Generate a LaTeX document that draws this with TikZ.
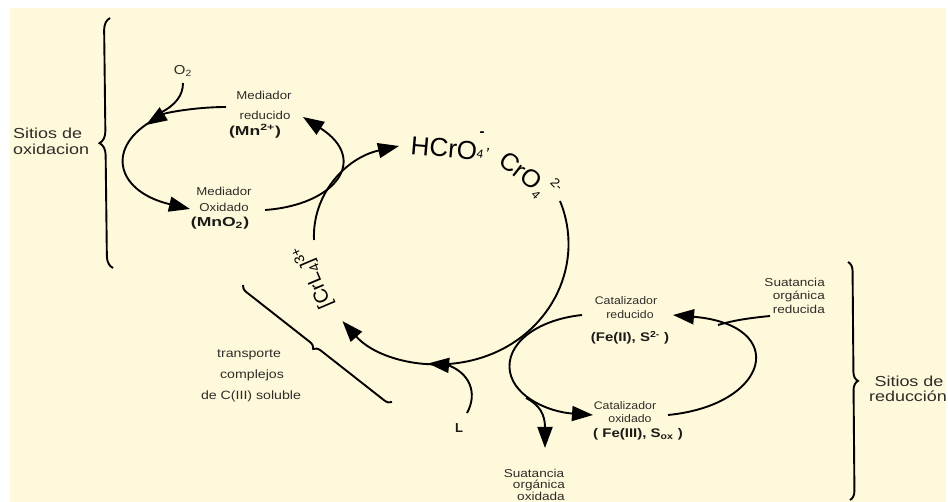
\documentclass[tikz,border=0pt]{standalone}
\usepackage{fontspec}
\usepackage{graphicx}
\setmainfont{Liberation Sans}
\usetikzlibrary{arrows.meta,decorations.pathreplacing,decorations.markings}
\definecolor{bgcream}{HTML}{FFF9DC}
\definecolor{txtgray}{HTML}{2E2C28}
\definecolor{txtdark}{HTML}{1A1A16}
\newcommand{\sx}[2][1.28]{\scalebox{#1}[1]{#2}}
\begin{document}
\begin{tikzpicture}[x=1pt,y=-1pt,
  curve/.style={line width=1.9pt, draw=black},
  tipend/.style={-{Triangle[length=21pt,width=15pt]}},
  midtip/.style={postaction={decorate,decoration={markings,
      mark=at position #1 with {\arrow{Triangle[length=21pt,width=15pt]}}}}},
  lbl/.style={inner sep=0pt, text=txtgray, font=\fontsize{#1}{#1}\selectfont},
  blbl/.style={inner sep=0pt, text=txtdark, font=\fontsize{#1}{#1}\selectfont\bfseries},
  big/.style={inner sep=0pt, text=black, font=\fontsize{#1}{#1}\selectfont},
  bracestyle/.style={line width=1.9pt, decorate, decoration={brace, amplitude=#1}}
]
\fill[white] (0,0) rectangle (948,502);
\fill[bgcream] (10,8) rectangle (946,502);
\useasboundingbox (0,0) rectangle (948,502);

% ---------- text nodes ----------
\node[lbl=14.5, anchor=west] (sox1) at (13,133) {\sx[1.24]{Sitios de}};
\node[lbl=14.5, anchor=west] (sox2) at (13,149) {\sx[1.24]{oxidacion}};
\node[lbl=14.5] (sred1) at (909,381) {\sx[1.24]{Sitios de}};
\node[lbl=14.5] (sred2) at (908,396) {\sx[1.24]{reducción}};

\node[lbl=13] (o2) at (183,71) {\sx[1.15]{O\textsubscript{2}}};

\node[lbl=11.5] (mr1) at (264,95) {\sx[1.15]{Mediador}};
\node[lbl=11.5] (mr2) at (265,115) {\sx[1.15]{reducido}};
\node[blbl=13] (mr3) at (255,131) {\sx[1.35]{(Mn\textsuperscript{2+})}};

\node[lbl=11.5] (mo1) at (224,191) {\sx[1.15]{Mediador}};
\node[lbl=11.5] (mo2) at (224,207) {\sx[1.15]{Oxidado}};
\node[blbl=13] (mo3) at (220,223) {\sx[1.35]{(MnO\textsubscript{2})}};

% chromate species, set piece by piece along the arc
\node[big=26, rotate=-5] (hcro) at (444,148) {HCrO};
\node[big=15, font=\fontsize{15}{15}\selectfont\bfseries] (hsup) at (482,134) {-};
\node[big=12, rotate=-10] (hsub) at (480,154) {4};
\node[big=16, rotate=-15] (hcom) at (488,150) {,};
\node[big=25, rotate=-38] (cro) at (521,171) {CrO};
\node[big=12, rotate=-45] (csub) at (536,195) {4};
\node[big=13, rotate=-45] (csup) at (557,184) {2-};
\node[big=20, rotate=113] (crl) at (313,277) {[CrL\textsubscript{4}]\textsuperscript{3+}};

\node[lbl=11] (cr1) at (626,301) {\sx[1.12]{Catalizador}};
\node[lbl=11] (cr2) at (630,315) {\sx[1.12]{reducido}};
\node[blbl=12.5] (cr3) at (630,338) {\sx[1.2]{(Fe(II), S\textsuperscript{2-} )}};

\node[lbl=11] (co1) at (625,406) {\sx[1.12]{Catalizador}};
\node[lbl=11] (co2) at (630,419) {\sx[1.12]{oxidado}};
\node[blbl=12.5] (co3) at (638,434) {\sx[1.2]{( Fe(III), S\textsubscript{ox} )}};

\node[lbl=11.5, anchor=east] (sr1) at (825,282) {\sx[1.18]{Suatancia}};
\node[lbl=11.5, anchor=east] (sr2) at (825,296) {\sx[1.18]{orgánica}};
\node[lbl=11.5, anchor=east] (sr3) at (825,309) {\sx[1.18]{reducida}};

\node[lbl=11.5] (so1) at (534,473) {\sx[1.18]{Suatancia}};
\node[lbl=11.5] (so2) at (539,485) {\sx[1.18]{orgánica}};
\node[lbl=11.5] (so3) at (541,496) {\sx[1.18]{oxidada}};

\node[lbl=12] (tr1) at (249,355) {\sx[1.18]{transporte}};
\node[lbl=12] (tr2) at (252,375) {\sx[1.18]{complejos}};
\node[lbl=12] (tr3) at (251,396) {\sx[1.18]{de C(III) soluble}};

\node[blbl=13] (ligL) at (459,428) {L};

% ---------- coordinates ----------
\coordinate (arcS) at (560,201);
\coordinate (leftS) at (314,240);
\coordinate (leftE) at (399,146);
\coordinate (moS) at (265,210);
\coordinate (mrTip) at (303,117);
\coordinate (mrS) at (226,107);
\coordinate (loopA) at (146,125);
\coordinate (loopS) at (150,122);
\coordinate (moTip) at (190,209);
\coordinate (o2S) at (183,83);
\coordinate (o2E) at (160,113);
\coordinate (crS) at (582,315);
\coordinate (cMid) at (510,372);
\coordinate (coTip) at (593,415);
\coordinate (brS) at (526,398);
\coordinate (soTip) at (545,448);
\coordinate (coS) at (668,415);
\coordinate (crTip) at (673,315);
\coordinate (srS) at (770,316);
\coordinate (srE) at (718,325);
\coordinate (lS) at (467,413);
\coordinate (lE) at (445,364);

% ---------- main cycle ----------
\draw[curve, tipend, midtip=0.72] (arcS) arc[start angle=-21, end angle=140, x radius=128, y radius=120];
\draw[curve, tipend] (leftS) .. controls (312,195) and (345,158) .. (leftE);

% ---------- mediator cycle ----------
\draw[curve, tipend] (moS) .. controls (335,205) and (370,160) .. (mrTip);
\draw[curve, tipend] (mrS) .. controls (195,107) and (165,113) .. (loopA);
\draw[curve, tipend] (loopS) .. controls (105,150) and (118,192) .. (moTip);
\draw[curve] (o2S) .. controls (183,95) and (176,105) .. (o2E);

% ---------- catalyst cycle ----------
\draw[curve] (crS) .. controls (535,320) and (505,345) .. (cMid);
\draw[curve, tipend] (cMid) .. controls (515,398) and (550,412) .. (coTip);
\draw[curve, tipend] (brS) .. controls (540,405) and (545,415) .. (soTip);
\draw[curve, tipend] (coS) .. controls (770,405) and (790,325) .. (crTip);
\draw[curve] (srS) .. controls (750,318) and (735,320) .. (srE);

% ---------- ligand ----------
\draw[curve] (lS) .. controls (478,393) and (470,372) .. (lE);

% ---------- braces ----------
\coordinate (bl1) at (113,268);
\coordinate (bl2) at (110,18);
\draw[bracestyle=12pt] (bl1) -- (bl2);
\coordinate (br1) at (848,262);
\coordinate (br2) at (850,500);
\draw[bracestyle=9pt] (br1) -- (br2);
\coordinate (bb1) at (392,402);
\coordinate (bb2) at (243,285);
\draw[bracestyle=7pt] (bb1) -- (bb2);
\end{tikzpicture}
\end{document}
